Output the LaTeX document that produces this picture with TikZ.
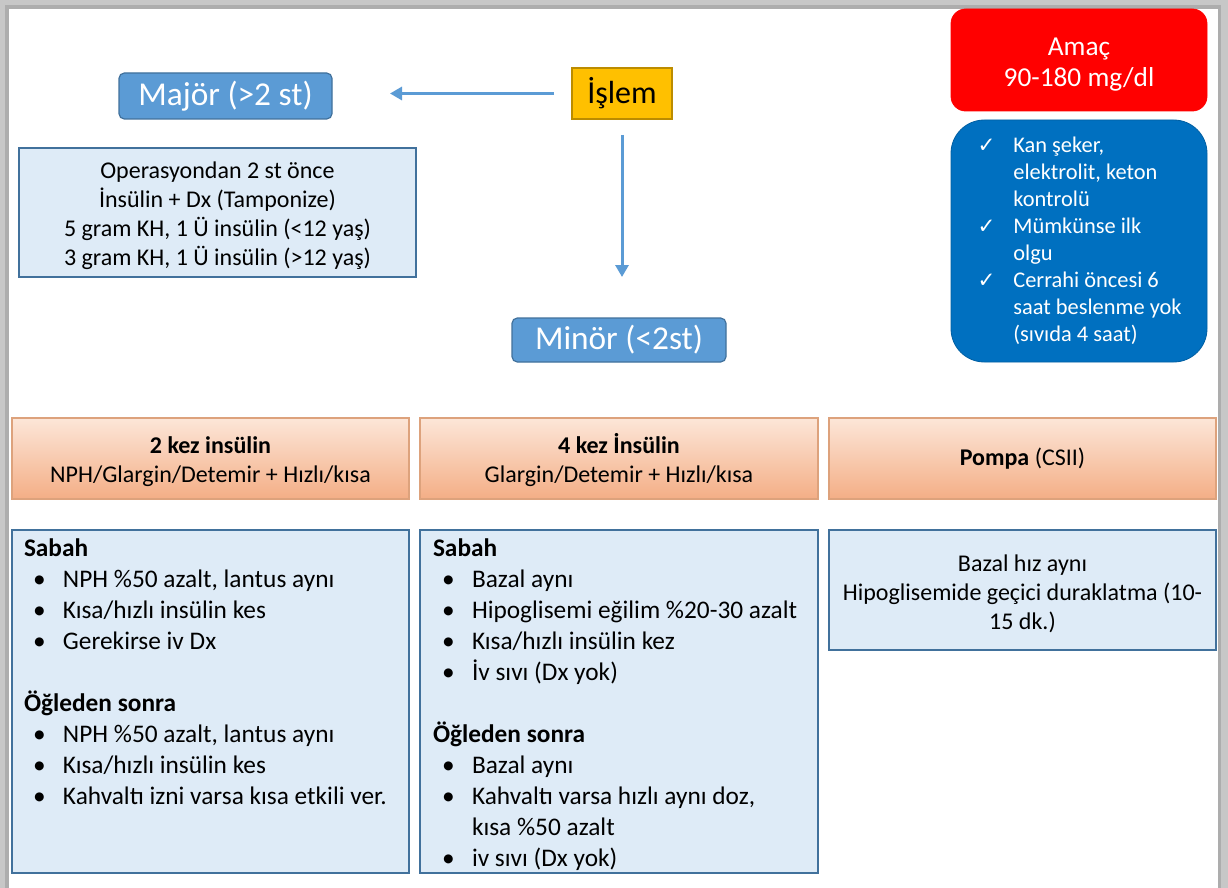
\documentclass[tikz,border=0pt]{standalone}
\usepackage{fontspec}
\setmainfont{Carlito}
\newfontfamily\symf{DejaVu Sans}
\usetikzlibrary{arrows.meta}
\definecolor{mblue}{HTML}{5B9BD5}
\definecolor{mbord}{HTML}{41719C}
\definecolor{lblue}{HTML}{DEEBF7}
\definecolor{goldf}{HTML}{FFC000}
\definecolor{goldb}{HTML}{BC8C00}
\definecolor{dblue}{HTML}{0070C0}
\definecolor{salmtop}{HTML}{FCE6D8}
\definecolor{salmbot}{HTML}{F4AE86}
\definecolor{salmb}{HTML}{DDA27C}
\definecolor{redf}{HTML}{FF0000}
\newcommand\bu{\makebox[29.25pt][l]{\hspace{6.75pt}\textbullet}}
\newcommand\bi{\hspace*{29.25pt}}
\newcommand\ck{\makebox[27.75pt][l]{\hspace{1pt}{\symf\fontsize{16}{16}\selectfont ✓}}}
\newcommand\ci{\hspace*{27.75pt}}
\newcommand\ts{\rule{0pt}{1.0em}}
\tikzset{
  every node/.style={inner sep=0pt, outer sep=0pt},
  bluebtn/.style={draw=mbord, fill=mblue, rounded corners=4pt, line width=0.9pt, text=white, font=\fontsize{25}{30}\selectfont},
  goldbox/.style={draw=goldb, fill=goldf, line width=0.9pt, font=\fontsize{24}{29}\selectfont},
  lbox/.style={draw=mbord, fill=lblue, line width=0.9pt},
  ctext/.style={font=\fontsize{18}{21.75}\selectfont, align=center},
  hdr/.style={draw=salmb, top color=salmtop, bottom color=salmbot, line width=0.9pt, font=\fontsize{18}{21.75}\selectfont, align=center},
  flow/.style={draw=mblue, line width=2.25pt, -{Triangle[length=9pt,width=9.75pt]}},
  bodytext/.style={font=\fontsize{19}{23.25}\selectfont, align=left, anchor=north west},
}
\begin{document}
\begin{tikzpicture}[x=0.75pt,y=-0.75pt]
\useasboundingbox (0,0) rectangle (1228,888);
% slide frame
\fill[black!22] (0,0) rectangle (1228,888);
\fill[black!32] (5,5) rectangle (1221,888);
\fill[white] (9,9) rectangle (1218,888);

% top row
\node[bluebtn, minimum width=159.75pt, minimum height=34.5pt] (major) at (225.5,96) {Majör (>2 st)};
\node[goldbox, minimum width=75pt, minimum height=38.25pt] (islem) at (622,93.5) {İşlem};
\node[bluebtn, minimum width=160.5pt, minimum height=33pt] (minor) at (619,340) {Minör (<2st)};

\draw[flow, shorten <=13.5pt, shorten >=43.5pt] (islem.west) -- (islem.west -| major.east);
\draw[flow, shorten <=12pt, shorten >=30.75pt] (islem.south) -- (islem.south |- minor.north);

\node[lbox, ctext, minimum width=297.75pt, minimum height=96.75pt] (oper) at (217.5,212.5)
  {\ts Operasyondan 2 st önce\\İnsülin + Dx (Tamponize)\\5 gram KH, 1 Ü insülin (<12 yaş)\\3 gram KH, 1 Ü insülin (>12 yaş)};

\node[fill=redf, draw=redf, line width=0.6pt, rounded corners=11pt, minimum width=192pt, minimum height=76.5pt, text=white, font=\fontsize{20.5}{23.25}\selectfont, align=center] (amac) at (1079,60)
  {\ts Amaç\\90-180 mg/dl};

\node[fill=dblue, draw=dblue!85!black, line width=0.6pt, rounded corners=25pt, minimum width=192pt, minimum height=181.5pt] (kontrol) at (1079,241) {};
\node[text=white, font=\fontsize{16.8}{20.25}\selectfont, align=left] (kontroltext) at (kontrol.center)
  {\ck Kan şeker,\\\ci elektrolit, keton\\\ci kontrolü\\\ck Mümkünse ilk\\\ci olgu\\\ck Cerrahi öncesi 6\\\ci saat beslenme yok\\\ci (sıvıda 4 saat)};

% headers
\node[hdr, minimum width=297.75pt, minimum height=60.75pt] (h1) at (210.5,458.5) {\ts\textbf{2 kez insülin}\\NPH/Glargin/Detemir + Hızlı/kısa};
\node[hdr, minimum width=298.5pt, minimum height=60.75pt] (h2) at (619,458.5) {\ts\textbf{4 kez İnsülin}\\Glargin/Detemir + Hızlı/kısa};
\node[hdr, minimum width=290.25pt, minimum height=60.75pt] (h3) at (1022.5,458.5) {\textbf{Pompa} (CSII)};

% content boxes
\node[lbox, minimum width=297.75pt, minimum height=257.25pt] (c1) at (210.5,701.5) {};
\node[lbox, minimum width=298.5pt, minimum height=257.25pt] (c2) at (619,701.5) {};
\node[lbox, ctext, minimum width=290.25pt, minimum height=90pt] (c3) at (1022.5,590)
  {\ts Bazal hız aynı\\Hipoglisemide geçici duraklatma (10-\\15 dk.)};

\node[bodytext] (c1text) at (24,539)
  {\textbf{Sabah}\\
   \bu NPH \%50 azalt, lantus aynı\\
   \bu Kısa/hızlı insülin kes\\
   \bu Gerekirse iv Dx\\[23.25pt]
   \textbf{Öğleden sonra}\\
   \bu NPH \%50 azalt, lantus aynı\\
   \bu Kısa/hızlı insülin kes\\
   \bu Kahvaltı izni varsa kısa etkili ver.};

\node[bodytext] (c2text) at (433,539)
  {\textbf{Sabah}\\
   \bu Bazal aynı\\
   \bu Hipoglisemi eğilim \%20-30 azalt\\
   \bu Kısa/hızlı insülin kez\\
   \bu İv sıvı (Dx yok)\\[23.25pt]
   \textbf{Öğleden sonra}\\
   \bu Bazal aynı\\
   \bu Kahvaltı varsa hızlı aynı doz,\\
   \bi kısa \%50 azalt\\
   \bu iv sıvı (Dx yok)};
\end{tikzpicture}
\end{document}
